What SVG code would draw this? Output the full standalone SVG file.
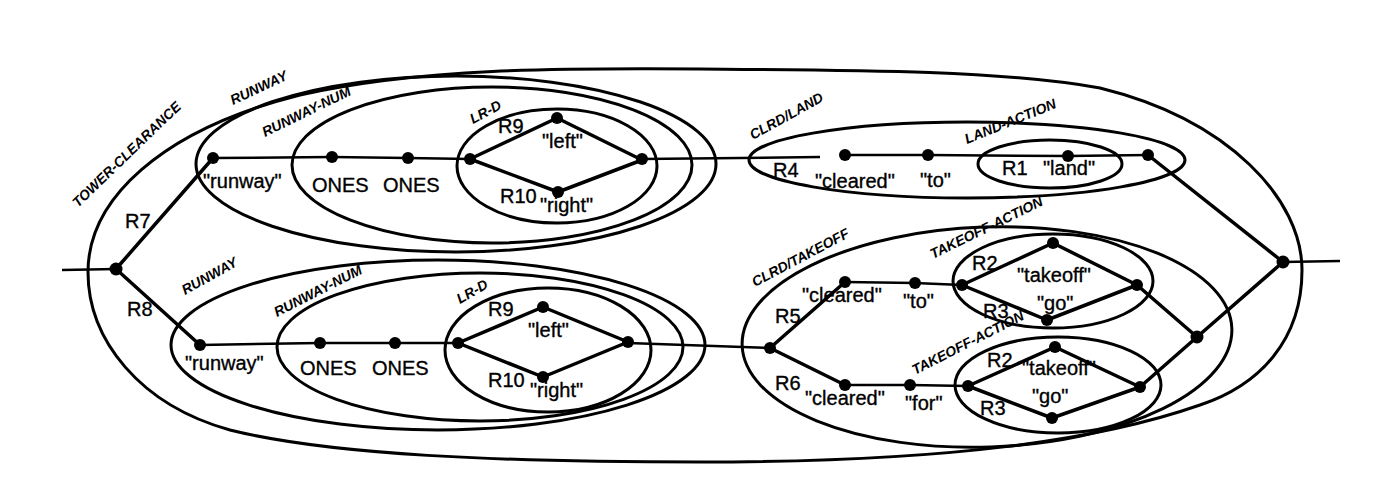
<svg xmlns="http://www.w3.org/2000/svg" width="1400" height="483" viewBox="0 0 1400 483">
<style>
.e{fill:none;stroke:#000;stroke-width:3}
.l{fill:none;stroke:#000;stroke-width:3.5;stroke-linejoin:round}
.t{fill:none;stroke:#000;stroke-width:2.5}
.n{fill:#000}
.lb{font-family:"Liberation Sans",Arial,sans-serif;font-size:20px;fill:#000;stroke:#000;stroke-width:0.35}
.gl{font-family:"Liberation Sans",Arial,sans-serif;font-size:14px;font-weight:bold;font-style:italic;fill:#000}
</style>
<rect width="1400" height="483" fill="#fff"/>
<g id="tower-clearance">
<path class="e" d="M88,272 C88,200 160,130 300,95 C420,68 560,68 700,69 C850,70 1000,70 1100,88 C1230,120 1302,200 1302,270 C1302,340 1260,385 1200,405 C1100,440 950,462 700,462 C500,462 330,455 230,430 C140,405 88,340 88,272 Z"/>
<text class="gl" transform="translate(78,208) rotate(-44)">TOWER-CLEARANCE</text>
</g>
<g id="runway-top">
<ellipse class="e" cx="456" cy="164" rx="260" ry="88"/>
<text class="gl" transform="translate(233,105) rotate(-25)">RUNWAY</text>
</g>
<g id="runway-num-top">
<ellipse class="e" cx="492" cy="165" rx="200" ry="78"/>
<text class="gl" transform="translate(265,137) rotate(-26)">RUNWAY-NUM</text>
</g>
<g id="lr-d-top">
<ellipse class="e" cx="557" cy="166" rx="100" ry="57"/>
<text class="gl" transform="translate(473,124) rotate(-28)">LR-D</text>
</g>
<g id="runway-bottom">
<ellipse class="e" cx="438" cy="345" rx="267" ry="85"/>
<text class="gl" transform="translate(185,295) rotate(-29)">RUNWAY</text>
</g>
<g id="runway-num-bottom">
<ellipse class="e" cx="480" cy="347" rx="203" ry="74"/>
<text class="gl" transform="translate(277,317) rotate(-27)">RUNWAY-NUM</text>
</g>
<g id="lr-d-bottom">
<ellipse class="e" cx="548" cy="350" rx="103" ry="62"/>
<text class="gl" transform="translate(460,304) rotate(-30)">LR-D</text>
</g>
<g id="clrd-land">
<ellipse class="e" cx="967" cy="160" rx="218" ry="38"/>
<text class="gl" transform="translate(753,140) rotate(-29)">CLRD/LAND</text>
</g>
<g id="land-action">
<ellipse class="e" cx="1050" cy="164" rx="72" ry="24"/>
<text class="gl" transform="translate(967,144) rotate(-22)">LAND-ACTION</text>
</g>
<g id="clrd-takeoff">
<ellipse class="e" cx="987" cy="337" rx="245" ry="110" transform="rotate(-2 987 337)"/>
<text class="gl" transform="translate(755,287) rotate(-28)">CLRD/TAKEOFF</text>
</g>
<g id="takeoff-action-top">
<ellipse class="e" cx="1053" cy="281" rx="100" ry="47"/>
<text class="gl" transform="translate(933,259) rotate(-26)">TAKEOFF-ACTION</text>
</g>
<g id="takeoff-action-bottom">
<ellipse class="e" cx="1058" cy="385" rx="103" ry="48"/>
<text class="gl" transform="translate(915,375) rotate(-27)">TAKEOFF-ACTION</text>
</g>
<g id="connectors">
<line class="t" x1="62" y1="270" x2="116" y2="269"/>
<line class="t" x1="1283" y1="262" x2="1340" y2="261"/>
<polyline class="l" points="200,345 116,269 213,158"/>
<polyline class="t" points="213,158 332,157 408,158 470,159"/>
<polygon class="l" points="470,159 557,118 642,160 558,192"/>
<line class="t" x1="642" y1="159" x2="820" y2="157"/>
<polyline class="t" points="845,155 928,155 1068,156 1148,155"/>
<line class="l" x1="1148" y1="155" x2="1283" y2="262"/>
<polyline class="t" points="200,345 320,343 395,343 458,343"/>
<polygon class="l" points="458,343 543,307 628,342 543,377"/>
<line class="t" x1="628" y1="343" x2="770" y2="348"/>
<polyline class="l" points="845,282 770,348 845,385"/>
<polyline class="t" points="845,282 915,283 962,285"/>
<polygon class="l" points="962,285 1053,243 1137,285 1047,320"/>
<polyline class="t" points="845,385 910,385 968,386"/>
<polygon class="l" points="968,386 1055,347 1140,387 1052,418"/>
<polyline class="l" points="1137,285 1197,337 1283,262"/>
<line class="l" x1="1140" y1="387" x2="1197" y2="337"/>
</g>
<g id="nodes">
<circle class="n" cx="116" cy="269" r="6.5"/>
<circle class="n" cx="1283" cy="262" r="6.5"/>
<circle class="n" cx="213" cy="158" r="6"/>
<circle class="n" cx="332" cy="157" r="6"/>
<circle class="n" cx="408" cy="158" r="6"/>
<circle class="n" cx="470" cy="159" r="6"/>
<circle class="n" cx="557" cy="118" r="6"/>
<circle class="n" cx="558" cy="192" r="6"/>
<circle class="n" cx="642" cy="159" r="6"/>
<circle class="n" cx="845" cy="155" r="6"/>
<circle class="n" cx="928" cy="155" r="6"/>
<circle class="n" cx="1068" cy="156" r="6"/>
<circle class="n" cx="1148" cy="155" r="6"/>
<circle class="n" cx="200" cy="345" r="6"/>
<circle class="n" cx="320" cy="343" r="6"/>
<circle class="n" cx="395" cy="343" r="6"/>
<circle class="n" cx="458" cy="343" r="6"/>
<circle class="n" cx="543" cy="307" r="6"/>
<circle class="n" cx="543" cy="377" r="6"/>
<circle class="n" cx="628" cy="342" r="6"/>
<circle class="n" cx="770" cy="348" r="6"/>
<circle class="n" cx="845" cy="282" r="6"/>
<circle class="n" cx="915" cy="283" r="6"/>
<circle class="n" cx="962" cy="285" r="6"/>
<circle class="n" cx="1053" cy="243" r="6"/>
<circle class="n" cx="1047" cy="320" r="6"/>
<circle class="n" cx="1137" cy="285" r="6"/>
<circle class="n" cx="845" cy="385" r="6"/>
<circle class="n" cx="910" cy="385" r="6"/>
<circle class="n" cx="968" cy="386" r="6"/>
<circle class="n" cx="1055" cy="347" r="6"/>
<circle class="n" cx="1052" cy="418" r="6"/>
<circle class="n" cx="1140" cy="387" r="6"/>
<circle class="n" cx="1197" cy="337" r="6.5"/>
</g>
<g id="labels">
<text class="lb" x="125" y="228">R7</text>
<text class="lb" x="127" y="316">R8</text>
<text class="lb" x="203" y="188">"runway"</text>
<text class="lb" x="312" y="192">ONES</text>
<text class="lb" x="383" y="192">ONES</text>
<text class="lb" x="498" y="133">R9</text>
<text class="lb" x="542" y="148">"left"</text>
<text class="lb" x="500" y="203">R10</text>
<text class="lb" x="540" y="212">"right"</text>
<text class="lb" x="185" y="370">"runway"</text>
<text class="lb" x="300" y="375">ONES</text>
<text class="lb" x="372" y="375">ONES</text>
<text class="lb" x="488" y="316">R9</text>
<text class="lb" x="528" y="337">"left"</text>
<text class="lb" x="488" y="387">R10</text>
<text class="lb" x="530" y="397">"right"</text>
<text class="lb" x="773" y="177">R4</text>
<text class="lb" x="815" y="188">"cleared"</text>
<text class="lb" x="920" y="187">"to"</text>
<text class="lb" x="1002" y="175">R1</text>
<text class="lb" x="1043" y="175">"land"</text>
<text class="lb" x="775" y="323">R5</text>
<text class="lb" x="802" y="302">"cleared"</text>
<text class="lb" x="903" y="308">"to"</text>
<text class="lb" x="972" y="270">R2</text>
<text class="lb" x="1017" y="282">"takeoff"</text>
<text class="lb" x="1037" y="310">"go"</text>
<text class="lb" x="983" y="318">R3</text>
<text class="lb" x="775" y="390">R6</text>
<text class="lb" x="805" y="405">"cleared"</text>
<text class="lb" x="905" y="410">"for"</text>
<text class="lb" x="987" y="367">R2</text>
<text class="lb" x="1022" y="375">"takeoff"</text>
<text class="lb" x="1032" y="403">"go"</text>
<text class="lb" x="980" y="415">R3</text>
</g>
</svg>
